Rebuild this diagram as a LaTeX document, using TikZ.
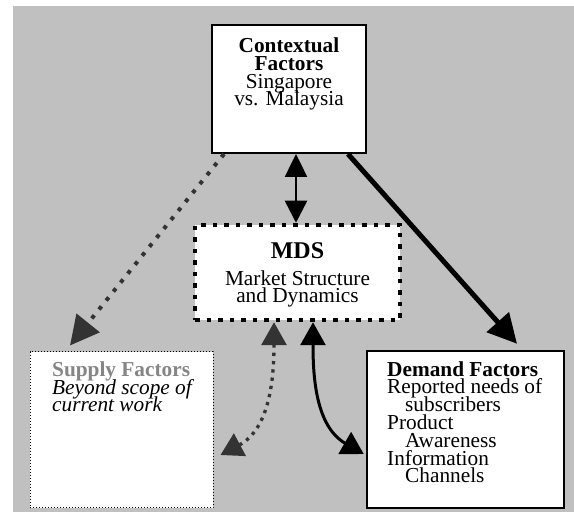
\documentclass[tikz,border=0pt]{standalone}
\usepackage{fontspec}
\setmainfont{Liberation Serif}
\usetikzlibrary{arrows.meta}
\definecolor{bg}{HTML}{C0C0C0}
\definecolor{dk}{HTML}{333333}
\definecolor{sgray}{HTML}{858585}
\newcommand\bodyfont{\fontsize{21.3}{17.8}\selectfont\lineskiplimit=-100pt\lineskip=0pt}
\begin{document}
\begin{tikzpicture}[x=1pt,y=1pt,
  execute at begin picture={\bodyfont},
  box/.style={draw, fill=white, inner sep=0pt},
  txt/.style={inner sep=0pt, font=\bodyfont},
  bighead/.style={-{Triangle[length=29pt,width=29pt]}},
  dotline/.style={dk, line width=4pt, dash pattern=on 4pt off 7.5pt},
  smalldot/.style={dk, line width=3.3pt, dash pattern=on 3.3pt off 5pt},
  twohead/.style={{Triangle[length=23pt,width=25pt]}-{Triangle[length=22pt,width=25pt]}}
]
\useasboundingbox (0,0) rectangle (574,512);
\fill[bg] (13,0) rectangle (574,506);

% Contextual factors
\node[box, line width=2pt, minimum width=154, minimum height=128] (ctx) at (289,423) {};
\node[txt, anchor=base, align=center] (ctxt) at (289,406)
  {\textbf{Contextual}\\\textbf{Factors}\\Singapore\\vs. Malaysia};

% MDS
\node[box, line width=4.5pt, dash pattern=on 4.5pt off 7pt, minimum width=205, minimum height=95] (mds) at (297.5,239.5) {};
\node[txt, anchor=base, font=\fontsize{24}{24}\selectfont\bfseries] (mdst) at (297.5,253) {MDS};
\node[txt, anchor=base, align=center] (mdsd) at (297.5,209) {Market Structure\\and Dynamics};

% Supply factors
\node[box, line width=1pt, dash pattern=on 1pt off 2pt, minimum width=183, minimum height=156] (sup) at (121.5,82) {};
\node[txt, anchor=base west, align=left] (supt) at (52,100)
  {\textcolor{sgray}{\textbf{Supply Factors}}\\\textit{Beyond scope of}\\\textit{current work}};

% Demand factors
\node[box, line width=2.5pt, minimum width=197, minimum height=157] (dem) at (465.5,82.5) {};
\node[txt, anchor=base west, align=left] (demt) at (387,29)
  {\textbf{Demand Factors}\\Reported needs of\\\hspace*{18pt}subscribers\\Product\\\hspace*{18pt}Awareness\\Information\\\hspace*{18pt}Channels};

% connectors
\draw[line width=2.5pt, {Triangle[length=23pt,width=22pt]}-{Triangle[length=22pt,width=22pt]}]
  ([xshift=7]ctx.south) -- ([xshift=-1.5]mds.north);
\draw[line width=5pt, bighead] ([xshift=-19]ctx.south east) -- ([xshift=51.5,yshift=6]dem.north);
\draw[dotline, bighead] ([xshift=13]ctx.south west) -- ([xshift=-51.5,yshift=6]sup.north);
\draw[line width=3pt, twohead] ([xshift=15.5]mds.south) to[out=-90,in=150] ([xshift=-2,yshift=-24.5]dem.west);
\draw[smalldot, twohead] ([xshift=-23.5]mds.south) to[out=-90,in=28] ([xshift=7,yshift=-25]sup.east);
\end{tikzpicture}
\end{document}
